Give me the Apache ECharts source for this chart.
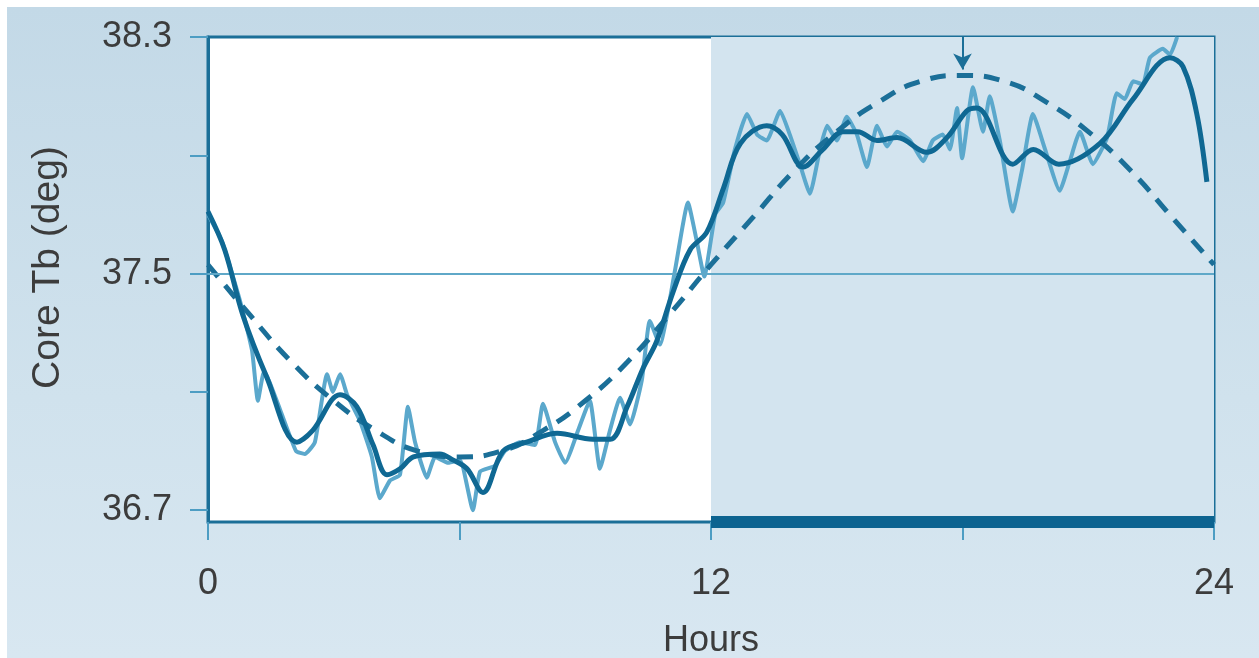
<!DOCTYPE html>
<html>
<head>
<meta charset="utf-8">
<script src="https://cdn.jsdelivr.net/npm/echarts@6/dist/echarts.min.js"></script>
<style>
  html, body { margin: 0; padding: 0; background: #ffffff; }
  #bg { position: absolute; left: 7px; top: 7px; width: 1252px; height: 651px;
        background: linear-gradient(to bottom, #c3d9e7 0%, #d0e2ed 60%, #d8e7f1 100%); }
  #chart { position: absolute; left: 0; top: 0; width: 1259px; height: 658px; }
</style>
</head>
<body>
<div id="bg"></div>
<div id="chart"></div>
<script>
// ---- data ----
const rawHours = [0.00,0.33,0.76,1.05,1.19,1.34,1.72,2.10,2.31,2.55,2.84,2.98,3.15,3.32,3.63,3.91,4.10,4.34,4.58,4.77,4.94,5.22,5.42,5.73,6.01,6.32,6.49,6.85,7.08,7.44,7.80,7.99,8.28,8.52,8.83,9.11,9.35,9.59,9.83,10.07,10.35,10.54,10.78,11.14,11.45,11.66,11.84,12.10,12.29,12.57,12.86,13.10,13.33,13.65,13.88,14.12,14.36,14.60,14.77,15.00,15.24,15.48,15.72,15.96,16.20,16.44,16.75,17.06,17.29,17.53,17.70,17.87,17.99,18.25,18.49,18.65,18.89,19.20,19.42,19.68,19.97,20.32,20.56,20.80,21.11,21.45,21.68,21.87,22.07,22.30,22.47,22.78,22.95,23.12];
const rawTemp  = [37.70,37.61,37.41,37.24,37.07,37.17,37.04,36.90,36.89,36.93,37.16,37.10,37.16,37.09,37.00,36.88,36.74,36.80,36.82,37.05,36.93,36.81,36.88,36.86,36.87,36.70,36.83,36.85,36.90,36.93,36.92,37.06,36.93,36.86,36.97,37.07,36.84,36.97,37.08,36.99,37.14,37.34,37.26,37.51,37.74,37.61,37.49,37.70,37.74,37.92,38.04,37.97,37.95,38.05,37.97,37.87,37.77,37.92,38.00,37.95,38.03,37.97,37.86,38.00,37.93,37.98,37.95,37.88,37.95,37.97,37.92,38.06,37.89,38.13,37.98,38.10,37.95,37.71,37.85,38.04,37.92,37.78,37.88,37.98,37.87,37.96,38.11,38.09,38.15,38.14,38.23,38.26,38.24,38.30];

const smoothHours = [0.00,0.40,0.83,1.40,2.12,2.50,3.15,3.55,3.94,4.27,4.58,4.90,5.53,5.84,6.18,6.56,7.04,7.60,8.33,9.18,9.60,10.00,10.38,10.70,11.10,11.50,11.90,12.30,12.70,13.33,13.70,14.20,14.67,15.15,15.50,15.96,16.44,17.15,17.63,18.10,18.34,19.20,19.69,20.30,21.28,22.07,22.95,23.26,23.59,23.83];
const smoothTemp  = [37.71,37.58,37.36,37.15,36.93,36.97,37.09,37.05,36.92,36.82,36.84,36.88,36.89,36.87,36.84,36.76,36.90,36.93,36.96,36.94,36.94,37.05,37.18,37.27,37.44,37.58,37.64,37.79,37.94,38.00,37.97,37.86,37.92,37.98,37.98,37.95,37.96,37.91,37.96,38.05,38.06,37.87,37.92,37.87,37.94,38.09,38.23,38.20,38.04,37.81];

const fitHours = [0,1,2,3,4,5,6,7,8,9,10,11,12,13,14,15,16,17,18,19,20,21,22,23,24];
const fitTemp  = [37.53,37.36,37.20,37.07,36.97,36.90,36.88,36.90,36.97,37.07,37.20,37.36,37.53,37.69,37.85,37.98,38.08,38.15,38.17,38.15,38.08,37.98,37.85,37.69,37.53];

const xTicks  = [0, 6, 12, 18, 24];
const xLabels = [0, 12, 24];
const yTicks  = [36.7, 37.1, 37.5, 37.9, 38.3];
const yLabels = [36.7, 37.5, 38.3];
const darkPhase = [12, 24];
const refLevel = 37.5;
const acrophase = 18;
// --------------------------------------

const yMin = 36.66, yMax = 38.3;
const zip = (a, b) => a.map((v, i) => [v, b[i]]);

const dark = '#0f6893';
const light = '#5ba8cc';
const frame = '#1b6f98';
const tickCol = '#4d9dc3';
const textCol = '#3c3c3c';
const font = 'Liberation Sans, Arial, sans-serif';

const chart = echarts.init(document.getElementById('chart'));
chart.setOption({
  backgroundColor: 'transparent',
  animation: false,
  grid: { left: 208, right: 45, top: 37, bottom: 136, show: true, outerBoundsMode: 'none', containLabel: false,
          backgroundColor: '#ffffff', borderColor: frame, borderWidth: 3 },
  xAxis: {
    type: 'value', min: 0, max: 24,
    name: 'Hours', nameLocation: 'middle', nameGap: 101,
    nameTextStyle: { fontSize: 36, color: textCol, fontFamily: font },
    axisLine: { show: true, onZero: false, lineStyle: { color: frame, width: 2 } },
    axisTick: { show: true, customValues: xTicks, length: 18, lineStyle: { color: tickCol, width: 2 } },
    axisLabel: { customValues: xLabels, margin: 44, fontSize: 36, color: textCol, fontFamily: font },
    splitLine: { show: false }
  },
  yAxis: {
    type: 'value', min: yMin, max: yMax,
    name: 'Core Tb (deg)', nameLocation: 'middle', nameRotate: 90, nameGap: 140,
    nameTextStyle: { fontSize: 39, color: textCol, fontFamily: font, padding: [0, 0, 0, 24] },
    axisLine: { show: true, lineStyle: { color: frame, width: 3 } },
    axisTick: { show: true, customValues: yTicks, length: 18, lineStyle: { color: tickCol, width: 2 } },
    axisLabel: { customValues: yLabels, margin: 36, fontSize: 36, color: textCol, fontFamily: font,
                 formatter: v => v.toFixed(1) },
    splitLine: { show: false }
  },
  series: [
    {
      type: 'line', name: 'shade', data: [], silent: true,
      markArea: { silent: true, itemStyle: { color: '#d3e4ef' },
        data: [[{ xAxis: darkPhase[0], yAxis: yMin }, { xAxis: darkPhase[1], yAxis: yMax }]] },
      markLine: { silent: true, symbol: 'none', label: { show: false },
        lineStyle: { color: '#5fa8c8', width: 2, type: 'solid' },
        data: [{ yAxis: refLevel }] }
    },
    {
      type: 'line', name: 'raw', data: zip(rawHours, rawTemp), showSymbol: false,
      smooth: 0.15, lineStyle: { color: light, width: 4 }, z: 3
    },
    {
      type: 'line', name: 'fit', data: zip(fitHours, fitTemp), showSymbol: false,
      smooth: true, lineStyle: { color: frame, width: 5, type: [16, 11] }, z: 4,
      markLine: { silent: true, symbol: ['none', 'arrow'], symbolSize: [14, 16],
        label: { show: false }, lineStyle: { color: frame, width: 2, type: 'solid' },
        data: [[{ coord: [acrophase, yMax] }, { coord: [acrophase, fitTemp[fitHours.indexOf(acrophase)] + 0.02] }]] }
    },
    {
      type: 'line', name: 'smooth', data: zip(smoothHours, smoothTemp), showSymbol: false,
      smooth: 0.35, lineStyle: { color: dark, width: 5 }, z: 5
    },
    {
      type: 'line', name: 'darkbar', data: [[darkPhase[0], yMin], [darkPhase[1], yMin]],
      showSymbol: false, clip: false, silent: true,
      lineStyle: { color: '#0c6390', width: 12, cap: 'butt' }, z: 6
    }
  ]
});
</script>
</body>
</html>
